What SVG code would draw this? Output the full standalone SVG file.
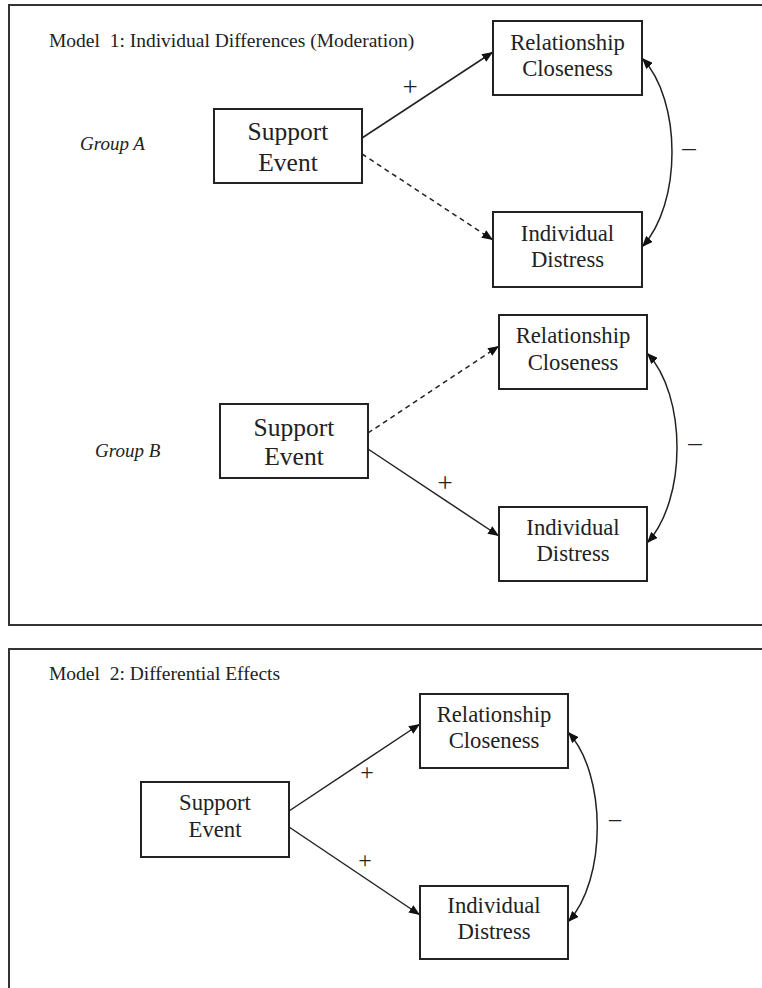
<svg xmlns="http://www.w3.org/2000/svg" width="762" height="988" viewBox="0 0 762 988">
<style>
  .panel { fill: none; stroke: #333; stroke-width: 2; }
  .box { fill: #fff; stroke: #222; stroke-width: 2; }
  .t { font-family: "Liberation Serif", "Times New Roman", serif; fill: #222; }
  .node { font-size: 22.7px; text-anchor: middle; }
  .big { font-size: 25.5px; }
  .title { font-size: 19.5px; white-space: pre; }
  .grp { font-size: 19px; font-style: italic; }
  .lbl { font-size: 27px; text-anchor: middle; font-weight: 300; }
  .lbl2 { font-size: 24px; text-anchor: middle; font-weight: 300; }
  .edge { fill: none; stroke: #222; stroke-width: 1.5; }
  .dash { stroke-dasharray: 5 4; }
</style>
<defs>
  <marker id="ah" markerUnits="userSpaceOnUse" markerWidth="11" markerHeight="9" refX="11" refY="4.5" orient="auto-start-reverse">
    <path d="M0,0 L11,4.5 L0,9 z" fill="#111"/>
  </marker>
</defs>
<rect width="762" height="988" fill="#fff"/>

<!-- Panels -->
<rect class="panel" x="9" y="5" width="800" height="620"/>
<rect class="panel" x="9" y="649" width="800" height="400"/>

<text class="t title" x="49" y="47" xml:space="preserve">Model  1: Individual Differences (Moderation)</text>
<text class="t title" x="49" y="680" xml:space="preserve">Model  2: Differential Effects</text>
<text class="t grp" x="80" y="150">Group A</text>
<text class="t grp" x="95" y="457">Group B</text>

<!-- Connectors -->
<g id="connectors">
  <line class="edge" x1="362" y1="138" x2="493" y2="52" marker-end="url(#ah)"/>
  <line class="edge dash" x1="362" y1="154" x2="493" y2="240" marker-end="url(#ah)"/>
  <path class="edge" d="M642,58 C682,100 682,204 642,247" marker-start="url(#ah)" marker-end="url(#ah)"/>

  <line class="edge dash" x1="368" y1="433" x2="499" y2="346" marker-end="url(#ah)"/>
  <line class="edge" x1="368" y1="449" x2="499" y2="536" marker-end="url(#ah)"/>
  <path class="edge" d="M647,353 C687,395 687,500 647,543" marker-start="url(#ah)" marker-end="url(#ah)"/>

  <line class="edge" x1="289" y1="811" x2="420" y2="724" marker-end="url(#ah)"/>
  <line class="edge" x1="289" y1="827" x2="420" y2="915" marker-end="url(#ah)"/>
  <path class="edge" d="M568,732 C607,774 607,880 568,922" marker-start="url(#ah)" marker-end="url(#ah)"/>

  <text class="t lbl" x="410" y="96">+</text>
  <text class="t lbl" x="689" y="156">–</text>
  <text class="t lbl" x="445" y="492">+</text>
  <text class="t lbl" x="695" y="451">–</text>
  <text class="t lbl2" x="367" y="780">+</text>
  <text class="t lbl2" x="365" y="868">+</text>
  <text class="t lbl2" x="615" y="826">–</text>
</g>

<!-- Panel 1, Group A -->
<g id="supportA">
  <rect class="box" x="214" y="109" width="148" height="74"/>
  <text class="t node big" x="288" y="140">Support</text>
  <text class="t node big" x="288" y="171">Event</text>
</g>
<g id="closenessA">
  <rect class="box" x="493" y="21" width="149" height="74"/>
  <text class="t node" x="567.5" y="50">Relationship</text>
  <text class="t node" x="567.5" y="76">Closeness</text>
</g>
<g id="distressA">
  <rect class="box" x="493" y="212" width="149" height="75"/>
  <text class="t node" x="567.5" y="241">Individual</text>
  <text class="t node" x="567.5" y="267">Distress</text>
</g>

<!-- Panel 1, Group B -->
<g id="supportB">
  <rect class="box" x="220" y="404" width="148" height="74"/>
  <text class="t node big" x="294" y="436">Support</text>
  <text class="t node big" x="294" y="465">Event</text>
</g>
<g id="closenessB">
  <rect class="box" x="499" y="315" width="148" height="74"/>
  <text class="t node" x="573" y="343">Relationship</text>
  <text class="t node" x="573" y="370">Closeness</text>
</g>
<g id="distressB">
  <rect class="box" x="499" y="507" width="148" height="74"/>
  <text class="t node" x="573" y="535">Individual</text>
  <text class="t node" x="573" y="561">Distress</text>
</g>

<!-- Panel 2 -->
<g id="supportC">
  <rect class="box" x="141" y="782" width="148" height="75"/>
  <text class="t node" x="215" y="810">Support</text>
  <text class="t node" x="215" y="837">Event</text>
</g>
<g id="closenessC">
  <rect class="box" x="420" y="694" width="148" height="74"/>
  <text class="t node" x="494" y="722">Relationship</text>
  <text class="t node" x="494" y="748">Closeness</text>
</g>
<g id="distressC">
  <rect class="box" x="420" y="886" width="148" height="73"/>
  <text class="t node" x="494" y="913">Individual</text>
  <text class="t node" x="494" y="939">Distress</text>
</g>
</svg>
